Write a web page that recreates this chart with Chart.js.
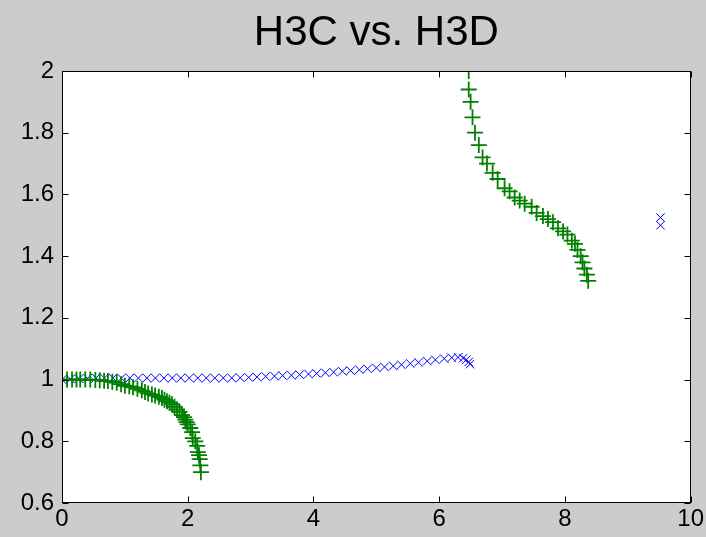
<!DOCTYPE html>
<html>
<head>
<meta charset="utf-8">
<script src="https://cdn.jsdelivr.net/npm/chart.js@4/dist/chart.umd.min.js"></script>
<style>
html,body{margin:0;padding:0;background:#cccccc;}
canvas{display:block;}
</style>
</head>
<body>
<canvas id="c" width="706" height="537"></canvas>
<script>
// ---- data ----
const titleText = "H3C vs. H3D";
const xTicks = [0, 2, 4, 6, 8, 10];
const yTicks = [0.6, 0.8, 1, 1.2, 1.4, 1.6, 1.8, 2];

// green "+" series, lower branch
const h3dLowX = [0, 0.08, 0.16, 0.23, 0.29, 0.37, 0.45, 0.53, 0.60, 0.67, 0.73, 0.80, 0.87, 0.94, 1.00, 1.07, 1.13, 1.20, 1.27, 1.32, 1.37, 1.43, 1.48, 1.54, 1.59, 1.63, 1.67, 1.71, 1.75, 1.79, 1.83, 1.87, 1.91, 1.94, 1.96, 1.98, 2.00, 2.04, 2.07, 2.08, 2.12, 2.15, 2.16, 2.18, 2.19, 2.20, 2.21];
const h3dLowY = [1.000, 1.000, 1.000, 1.000, 1.000, 1.000, 1.000, 0.999, 0.998, 0.996, 0.995, 0.993, 0.990, 0.985, 0.980, 0.978, 0.975, 0.970, 0.965, 0.960, 0.955, 0.952, 0.948, 0.944, 0.940, 0.935, 0.930, 0.925, 0.920, 0.912, 0.903, 0.895, 0.885, 0.878, 0.870, 0.862, 0.855, 0.843, 0.830, 0.810, 0.800, 0.785, 0.765, 0.755, 0.742, 0.722, 0.700];

// green "+" series, upper branch
const h3dHighX = [6.47, 6.47, 6.50, 6.53, 6.57, 6.63, 6.69, 6.76, 6.85, 6.93, 7.04, 7.12, 7.20, 7.28, 7.36, 7.47, 7.55, 7.65, 7.73, 7.81, 7.89, 7.97, 8.04, 8.11, 8.16, 8.20, 8.25, 8.28, 8.31, 8.35, 8.37];
const h3dHighY = [2.00, 1.94, 1.90, 1.85, 1.80, 1.76, 1.72, 1.70, 1.67, 1.65, 1.62, 1.61, 1.59, 1.58, 1.57, 1.56, 1.54, 1.53, 1.52, 1.51, 1.49, 1.48, 1.47, 1.45, 1.44, 1.42, 1.40, 1.38, 1.36, 1.34, 1.32];

// blue "x" series
const h3cX = [0, 0.135, 0.27, 0.405, 0.54, 0.675, 0.81, 0.945, 1.08, 1.215, 1.35, 1.485, 1.62, 1.755, 1.89, 2.025, 2.16, 2.295, 2.43, 2.565, 2.70, 2.835, 2.97, 3.10, 3.24, 3.38, 3.51, 3.65, 3.78, 3.92, 4.05, 4.19, 4.32, 4.46, 4.59, 4.73, 4.86, 5.00, 5.13, 5.27, 5.40, 5.54, 5.67, 5.81, 5.94, 6.08, 6.20, 6.30, 6.38, 6.43, 6.47, 6.49, 9.52, 9.52];
const h3cY = [1.000, 1.002, 1.003, 1.004, 1.005, 1.005, 1.005, 1.005, 1.005, 1.005, 1.005, 1.005, 1.005, 1.005, 1.005, 1.005, 1.005, 1.005, 1.005, 1.005, 1.005, 1.006, 1.007, 1.008, 1.010, 1.011, 1.013, 1.014, 1.016, 1.018, 1.020, 1.022, 1.024, 1.027, 1.029, 1.032, 1.035, 1.038, 1.041, 1.044, 1.048, 1.052, 1.056, 1.060, 1.064, 1.068, 1.071, 1.072, 1.069, 1.064, 1.057, 1.050, 1.525, 1.500];

// ---- build library structures ----
const toPts = (xs, ys) => xs.map((x, i) => ({x: x, y: ys[i]}));
const green = toPts(h3dLowX, h3dLowY).concat(toPts(h3dHighX, h3dHighY));
const blue = toPts(h3cX, h3cY);

const FONT = "'Liberation Sans', Arial, Helvetica, sans-serif";

const frame = {
  id: 'frame',
  beforeDraw(chart) {
    const {ctx, chartArea: a} = chart;
    ctx.save();
    ctx.fillStyle = '#cccccc';
    ctx.fillRect(0, 0, chart.width, chart.height);
    ctx.fillStyle = '#ffffff';
    ctx.fillRect(a.left, a.top, a.right - a.left, a.bottom - a.top);
    ctx.restore();
  },
  afterDraw(chart) {
    const {ctx, chartArea: a, scales} = chart;
    ctx.save();
    ctx.strokeStyle = '#000000';
    ctx.lineWidth = 1;
    const L = Math.round(a.left) + 0.5, R = Math.round(a.right) - 0.5;
    const T = Math.round(a.top) + 0.5, B = Math.round(a.bottom) - 0.5;
    ctx.strokeRect(L, T, R - L, B - T);
    const tl = 6;
    ctx.beginPath();
    xTicks.forEach(v => {
      const px = Math.round(scales.x.getPixelForValue(v)) + 0.5;
      ctx.moveTo(px, B); ctx.lineTo(px, B - tl);
      ctx.moveTo(px, T); ctx.lineTo(px, T + tl);
    });
    yTicks.forEach(v => {
      const py = Math.round(scales.y.getPixelForValue(v)) + 0.5;
      ctx.moveTo(L, py); ctx.lineTo(L + tl, py);
      ctx.moveTo(R, py); ctx.lineTo(R - tl, py);
    });
    ctx.stroke();
    ctx.restore();
  }
};

new Chart(document.getElementById('c'), {
  type: 'scatter',
  data: {
    datasets: [
      {label: 'H3D', data: green, showLine: false, pointStyle: 'cross', pointRadius: 8, pointHoverRadius: 8,
       borderColor: '#008000', backgroundColor: '#008000', pointBorderWidth: 1.8},
      {label: 'H3C', data: blue, showLine: false, pointStyle: 'crossRot', pointRadius: 6, pointHoverRadius: 6,
       borderColor: '#0000ff', backgroundColor: '#0000ff', pointBorderWidth: 1}
    ]
  },
  options: {
    responsive: false,
    animation: false,
    events: [],
    layout: {padding: {left: 0, right: 15, top: 8, bottom: 0}},
    plugins: {
      legend: {display: false},
      tooltip: {enabled: false},
      title: {display: true, text: titleText, color: '#000000', fullSize: false,
              font: {family: FONT, size: 42, weight: 'normal', lineHeight: 1.2},
              padding: {top: 0, bottom: 12.6}}
    },
    scales: {
      x: {
        type: 'linear', min: 0, max: 10,
        afterBuildTicks: s => { s.ticks = xTicks.map(v => ({value: v})); },
        afterFit: s => { s.height = 34; },
        grid: {display: false, drawTicks: false},
        border: {display: false},
        ticks: {color: '#000000', font: {family: FONT, size: 24}, padding: 2, maxRotation: 0,
                callback: v => String(v)}
      },
      y: {
        type: 'linear', min: 0.6, max: 2,
        afterBuildTicks: s => { s.ticks = yTicks.map(v => ({value: v})); },
        afterFit: s => { s.width = 62; },
        grid: {display: false, drawTicks: false},
        border: {display: false},
        ticks: {color: '#000000', font: {family: FONT, size: 24}, padding: 8,
                callback: v => String(v)}
      }
    }
  },
  plugins: [frame]
});
</script>
</body>
</html>
